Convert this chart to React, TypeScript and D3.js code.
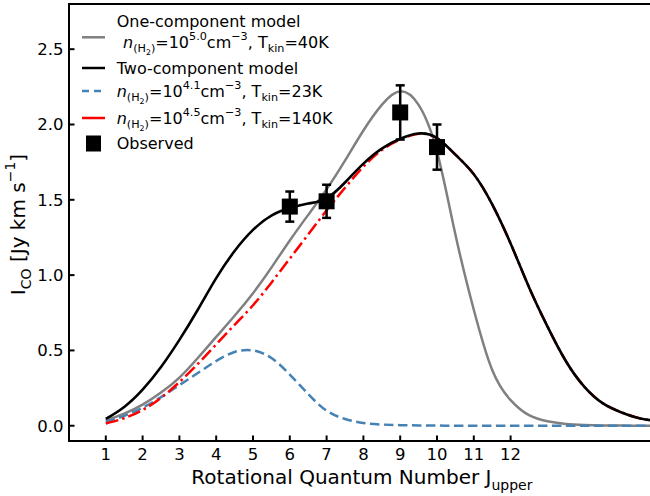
import React from 'react';
import * as d3 from 'd3';

// Upper rotational level J sampled for the model curves
const jGrid = [
  1, 1.5, 2, 2.5, 3, 3.5, 4, 4.5, 5, 5.5, 6, 6.5, 7, 7.5, 8, 8.5, 9, 9.5, 10,
  10.5, 11, 11.5, 12, 12.5, 13, 13.5, 14, 14.5, 15, 15.5, 16,
];

// One-component LVG model, n(H2)=10^5.0 cm^-3, Tkin=40K
const oneComponent = [
  0.035, 0.08, 0.14, 0.22, 0.32, 0.45, 0.59, 0.73, 0.88, 1.05, 1.23, 1.4, 1.57,
  1.76, 1.96, 2.13, 2.22, 2.13, 1.82, 1.27, 0.77, 0.37, 0.17, 0.07, 0.03, 0.012,
  0.005, 0.002, 0.001, 0, 0,
];

// Two-component model (sum of the cold and warm components)
const twoComponent = [
  0.045, 0.125, 0.24, 0.39, 0.57, 0.77, 0.98, 1.16, 1.3, 1.395, 1.445, 1.475,
  1.51, 1.615, 1.74, 1.84, 1.905, 1.94, 1.91, 1.8, 1.67, 1.47, 1.21, 0.92, 0.66,
  0.43, 0.26, 0.15, 0.09, 0.05, 0.03,
];

// Cold component, n(H2)=10^4.1 cm^-3, Tkin=23K
const coldComponent = [
  0.025, 0.065, 0.12, 0.19, 0.27, 0.35, 0.43, 0.49, 0.5, 0.45, 0.34, 0.21, 0.1,
  0.045, 0.018, 0.008, 0.004, 0.002, 0.001, 0, 0, 0, 0, 0, 0, 0, 0, 0, 0, 0, 0,
];

// Warm component, n(H2)=10^4.5 cm^-3, Tkin=140K
const warmComponent = [
  0.015, 0.05, 0.105, 0.185, 0.29, 0.41, 0.54, 0.67, 0.8, 0.95, 1.11, 1.27, 1.43,
  1.58, 1.72, 1.83, 1.9, 1.938, 1.909, 1.8, 1.67, 1.47, 1.21, 0.92, 0.66, 0.43,
  0.26, 0.15, 0.09, 0.05, 0.03,
];

// Observed CO line fluxes
const obsJ = [6, 7, 9, 10];
const obsFlux = [1.455, 1.49, 2.08, 1.85];
const obsErr = [0.1, 0.11, 0.18, 0.15];

const xTicks = [1, 2, 3, 4, 5, 6, 7, 8, 9, 10, 11, 12];
const yTicks = [0, 0.5, 1.0, 1.5, 2.0, 2.5];

const W = 650;
const H = 496;
const FONT = 'DejaVu Sans, sans-serif';

const left = 69;
const right = 657.8;
const top = 4;
const bottom = 441;

type Seg = { t: string; s?: number; dy?: number; it?: boolean };

function Rich({
  x,
  y,
  size,
  segs,
  anchor = 'start',
}: {
  x: number;
  y: number;
  size: number;
  segs: Seg[];
  anchor?: 'start' | 'middle' | 'end';
}) {
  let prev = 0;
  return (
    <text
      x={x}
      y={y}
      fontSize={size}
      fontFamily={FONT}
      textAnchor={anchor}
      fill="#000"
      style={{ whiteSpace: 'pre' }}
    >
      {segs.map((g, i) => {
        const shift = (g.dy ?? 0) * size;
        const d = shift - prev;
        prev = shift;
        return (
          <tspan
            key={i}
            dy={d}
            fontSize={size * (g.s ?? 1)}
            fontStyle={g.it ? 'italic' : undefined}
          >
            {g.t}
          </tspan>
        );
      })}
    </text>
  );
}

const SUB = 0.3;
const SUP = -0.5;

function densitySegs(exp: string, temp: string): Seg[] {
  return [
    { t: 'n', it: true },
    { t: '(H', s: 0.7, dy: SUB },
    { t: '2', s: 0.49, dy: SUB + 0.18 },
    { t: ')', s: 0.7, dy: SUB },
    { t: '=10' },
    { t: exp, s: 0.7, dy: SUP },
    { t: 'cm' },
    { t: '\u22123', s: 0.7, dy: SUP },
    { t: ', T' },
    { t: 'kin', s: 0.7, dy: SUB },
    { t: `=${temp}K` },
  ];
}

export default function App() {
  const x = d3.scaleLinear().domain([0, 16]).range([left, right]);
  const y = d3.scaleLinear().domain([-0.1, 2.8]).range([440.8, top]);

  const line = (vals: number[]) =>
    d3
      .line<number>()
      .x((_, i) => x(jGrid[i]))
      .y((v) => y(v))
      .curve(d3.curveNatural)(vals) ?? '';

  const tickFont = 16.5;
  const legendFont = 16;

  return (
    <svg
      width={W}
      height={H}
      style={{ position: 'absolute', left: 0, top: 0, background: '#fff' }}
    >
      <defs>
        <clipPath id="plot-area">
          <rect x={left} y={top} width={right - left} height={bottom - top} />
        </clipPath>
      </defs>
      <rect x={0} y={0} width={W} height={H} fill="#fff" />

      <g clipPath="url(#plot-area)" fill="none" strokeLinejoin="round">
        <path d={line(oneComponent)} stroke="#808080" strokeWidth={2.5} />
        <path
          d={line(coldComponent)}
          stroke="#4682b4"
          strokeWidth={2.5}
          strokeDasharray="9.5 4.5"
        />
        <path
          d={line(warmComponent)}
          stroke="#ff0000"
          strokeWidth={2.5}
          strokeDasharray="13 4 2.5 4"
        />
        <path d={line(twoComponent)} stroke="#000" strokeWidth={2.6} />
      </g>

      {/* observed points with error bars */}
      <g>
        {obsJ.map((j, i) => {
          const cx = x(j);
          const y0 = y(obsFlux[i] - obsErr[i]);
          const y1 = y(obsFlux[i] + obsErr[i]);
          return (
            <g key={j} stroke="#000" strokeWidth={2.5}>
              <line x1={cx} x2={cx} y1={y0} y2={y1} />
              <line x1={cx - 4.5} x2={cx + 4.5} y1={y0} y2={y0} />
              <line x1={cx - 4.5} x2={cx + 4.5} y1={y1} y2={y1} />
              <rect
                x={cx - 8}
                y={y(obsFlux[i]) - 8}
                width={16}
                height={16}
                fill="#000"
                stroke="none"
              />
            </g>
          );
        })}
      </g>

      {/* frame */}
      <g stroke="#000" strokeWidth={2} fill="none">
        <line x1={left} x2={left} y1={top} y2={bottom + 1} />
        <line x1={left - 1} x2={W} y1={bottom} y2={bottom} />
        <line x1={left - 1} x2={W} y1={top} y2={top} />
        <line x1={right} x2={right} y1={top} y2={bottom} />
      </g>

      {/* x ticks */}
      <g>
        {xTicks.map((t) => (
          <g key={t}>
            <line
              x1={x(t)}
              x2={x(t)}
              y1={bottom}
              y2={bottom - 5.5}
              stroke="#000"
              strokeWidth={2}
            />
            <text
              x={x(t)}
              y={460}
              fontSize={tickFont}
              fontFamily={FONT}
              textAnchor="middle"
            >
              {t}
            </text>
          </g>
        ))}
      </g>

      {/* y ticks */}
      <g>
        {yTicks.map((t) => (
          <g key={t}>
            <line
              x1={left}
              x2={left + 5.5}
              y1={y(t)}
              y2={y(t)}
              stroke="#000"
              strokeWidth={2}
            />
            <text
              x={63.5}
              y={y(t) + tickFont * 0.36}
              fontSize={tickFont}
              fontFamily={FONT}
              textAnchor="end"
            >
              {t.toFixed(1)}
            </text>
          </g>
        ))}
      </g>

      {/* axis titles */}
      <Rich
        x={(left + right) / 2 - 1.5}
        y={484}
        size={20}
        anchor="middle"
        segs={[
          { t: 'Rotational Quantum Number J' },
          { t: 'upper', s: 0.7, dy: SUB },
        ]}
      />
      <g transform={`translate(25,${(top + bottom) / 2 + 2}) rotate(-90)`}>
        <Rich
          x={0}
          y={0}
          size={20}
          anchor="middle"
          segs={[
            { t: 'I' },
            { t: 'CO', s: 0.7, dy: SUB },
            { t: ' [Jy km s' },
            { t: '\u22121', s: 0.7, dy: SUP },
            { t: ']' },
          ]}
        />
      </g>

      {/* legend */}
      <g>
        <line x1={82} x2={105} y1={37.3} y2={37.3} stroke="#808080" strokeWidth={2.5} />
        <line x1={82} x2={105} y1={68} y2={68} stroke="#000" strokeWidth={2.5} />
        <line
          x1={82}
          x2={105}
          y1={91}
          y2={91}
          stroke="#4682b4"
          strokeWidth={2.5}
          strokeDasharray="7 5"
        />
        <line x1={82} x2={105} y1={118} y2={118} stroke="#ff0000" strokeWidth={2.5} />
        <rect x={86} y={135.5} width={15} height={16} fill="#000" />

        <Rich x={116.7} y={26.5} size={legendFont} segs={[{ t: 'One-component model' }]} />
        <Rich x={123} y={47.5} size={legendFont} segs={densitySegs('5.0', '40')} />
        <Rich x={116.7} y={74} size={legendFont} segs={[{ t: 'Two-component model' }]} />
        <Rich x={116.7} y={96.5} size={legendFont} segs={densitySegs('4.1', '23')} />
        <Rich x={116.7} y={123.5} size={legendFont} segs={densitySegs('4.5', '140')} />
        <Rich x={116.7} y={149} size={legendFont} segs={[{ t: 'Observed' }]} />
      </g>
    </svg>
  );
}
